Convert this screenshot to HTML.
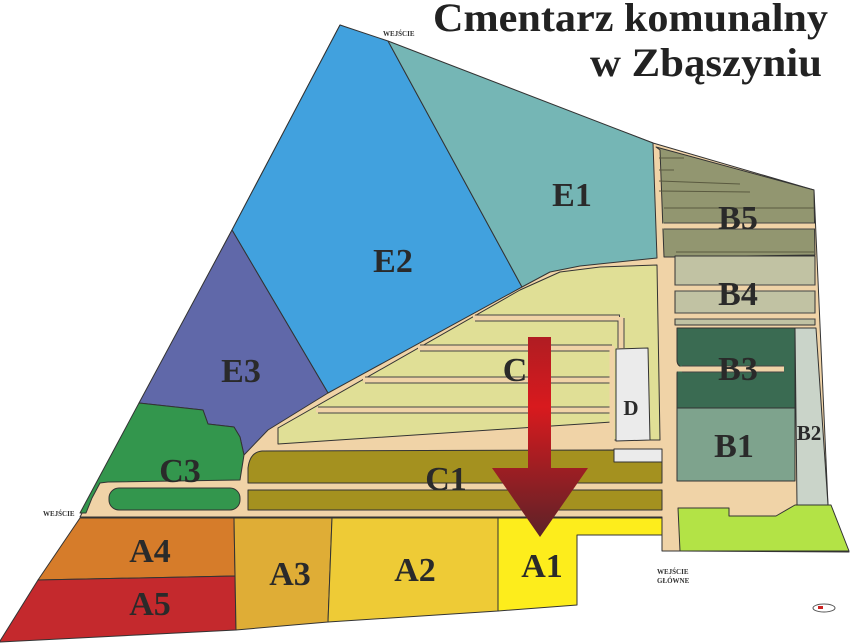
<!DOCTYPE html>
<html><head><meta charset="utf-8"><style>
html,body{margin:0;padding:0;background:#fff;width:852px;height:644px;overflow:hidden}
svg{display:block}
.l{font-family:"Liberation Serif",serif;font-weight:bold;fill:#2a2a2a;text-anchor:middle}
.t{font-family:"Liberation Serif",serif;font-weight:bold;fill:#222}
.s{font-family:"Liberation Serif",serif;font-weight:bold;fill:#333;font-size:7px}
</style></head><body>
<svg width="852" height="644" viewBox="0 0 852 644" xmlns="http://www.w3.org/2000/svg">
<defs>
<linearGradient id="ag" x1="0" y1="0" x2="0" y2="1">
<stop offset="0" stop-color="#b01c22"/><stop offset="0.35" stop-color="#d81a1e"/><stop offset="1" stop-color="#5c2228"/>
</linearGradient>
</defs>
<g stroke="#333" stroke-width="1" stroke-linejoin="round">
<polygon fill="#f0d3a7" points="340,25 653,143 814,190 828,505 849,552 680,551 662,551 662,517 80,517 140,403 232,230"/>
<polygon fill="#41a1de" points="340,25 388,41 522,287 328,393 232,230"/>
<polygon fill="#75b6b5" points="388,41 653,143 657,258 580,266 550,272 522,287"/>
<polygon fill="#6068a9" points="232,230 328,393 268,430 244,455 240,437 234,427 208,424 203,410 139,403"/>
<polygon fill="#33964d" points="139,403 203,410 208,424 234,427 240,437 244,455 240,480 108,482 100,483 92,498 86,513 80,513"/>
<rect fill="#33964d" x="109" y="488" width="131" height="22" rx="10"/>
<polygon fill="#e0df96" points="278,428 520,290 560,272 600,267 657,265 660,440 612,440 612,422 278,444"/>
</g>
<!-- road gaps in C with outlines -->
<g stroke="#444" stroke-width="7" fill="none">
<line x1="475" y1="318" x2="620" y2="318"/>
<line x1="420" y1="348" x2="612" y2="348"/>
<line x1="365" y1="380" x2="612" y2="380"/>
<line x1="318" y1="410" x2="612" y2="410"/>
<line x1="621" y1="318" x2="621" y2="348"/>
</g>
<g stroke="#f0d3a7" stroke-width="5" fill="none">
<line x1="473" y1="318" x2="619" y2="318"/>
<line x1="418" y1="348" x2="613" y2="348"/>
<line x1="363" y1="380" x2="613" y2="380"/>
<line x1="316" y1="410" x2="613" y2="410"/>
<line x1="621" y1="317" x2="621" y2="349"/>
<line x1="612" y1="346" x2="612" y2="442"/>
</g>
<g stroke="#333" stroke-width="1" stroke-linejoin="round">
<polygon fill="#ebebeb" points="616,349 648,348 650,440 616,441"/>
<rect fill="#ebebeb" x="614" y="449" width="48" height="13"/>
<path fill="#a4911f" d="M262,451 L614,450 L614,462 L662,462 L662,483 L248,483 L248,468 Q250,452 262,451 Z"/>
<rect fill="#a4911f" x="248" y="490" width="414" height="20"/>
<polygon fill="#929670" points="656,147 814,190 815,255 676,257 664,257 660,150"/>
<rect fill="#c1c2a3" x="675" y="256" width="140" height="69"/>
<path fill="#3a6b52" d="M677,328 L795,328 L795,408 L677,408 L677,374 Q677,368 682,367 Q677,366 677,360 Z"/>
<rect fill="#7ea38d" x="677" y="408" width="118" height="73"/>
<polygon fill="#cad4c9" points="795,328 816,328 828,505 797,505"/>
<polygon fill="#b3e346" points="678,508 729,508 729,516 776,516 795,505 831,505 849,551 680,551"/>
<polygon fill="#d67c2a" points="80,518 234,518 235,576 38,580"/>
<polygon fill="#c4292d" points="38,580 235,576 236,630 0,642 0,641"/>
<polygon fill="#dfad36" points="234,518 332,518 328,622 236,630"/>
<polygon fill="#eecb36" points="332,518 498,518 498,611 328,622"/>
<polygon fill="#fded1c" points="498,518 662,518 662,535 577,535 577,605 498,611"/>
</g>
<g stroke="#444" stroke-width="7" fill="none">
<line x1="664" y1="226" x2="814" y2="226"/>
<line x1="675" y1="288" x2="815" y2="288"/>
<line x1="675" y1="316" x2="815" y2="316"/>
<line x1="682" y1="369" x2="784" y2="369"/>
</g>
<g stroke="#f0d3a7" stroke-width="5" fill="none">
<line x1="662" y1="226" x2="815" y2="226"/>
<line x1="673" y1="288" x2="816" y2="288"/>
<line x1="673" y1="316" x2="816" y2="316"/>
<line x1="676" y1="369" x2="784" y2="369"/>
</g>
<g stroke="#5a5a40" stroke-width="1" fill="none">
<line x1="659" y1="158" x2="684" y2="158"/>
<line x1="659" y1="170" x2="674" y2="170"/>
<line x1="659" y1="181" x2="740" y2="184"/>
<line x1="659" y1="191" x2="750" y2="192"/>
<line x1="664" y1="208" x2="814" y2="208"/>
<line x1="676" y1="252" x2="814" y2="252"/>
</g>
<polygon fill="url(#ag)" points="528,337 551,337 551,468 588,468 540,537 492,468 528,468"/>
<text class="l" x="572" y="206" font-size="34">E1</text>
<text class="l" x="393" y="272" font-size="34">E2</text>
<text class="l" x="241" y="382" font-size="34">E3</text>
<text class="l" x="515" y="381" font-size="34">C</text>
<text class="l" x="631" y="415" font-size="21">D</text>
<text class="l" x="180" y="482" font-size="34">C3</text>
<text class="l" x="446" y="490" font-size="34">C1</text>
<text class="l" x="738" y="229" font-size="34">B5</text>
<text class="l" x="738" y="305" font-size="34">B4</text>
<text class="l" x="738" y="380" font-size="34">B3</text>
<text class="l" x="734" y="457" font-size="34">B1</text>
<text class="l" x="809" y="440" font-size="21">B2</text>
<text class="l" x="150" y="562" font-size="34">A4</text>
<text class="l" x="150" y="615" font-size="34">A5</text>
<text class="l" x="290" y="585" font-size="34">A3</text>
<text class="l" x="415" y="581" font-size="34">A2</text>
<text class="l" x="542" y="577" font-size="34">A1</text>
<text class="t" x="433" y="31" font-size="40" textLength="395" lengthAdjust="spacingAndGlyphs">Cmentarz komunalny</text>
<text class="t" x="590" y="76" font-size="40" textLength="232" lengthAdjust="spacingAndGlyphs">w Zbąszyniu</text>
<text class="s" x="383" y="36">WEJŚCIE</text>
<text class="s" x="43" y="516">WEJŚCIE</text>
<text class="s" x="657" y="574">WEJŚCIE</text>
<text class="s" x="657" y="583">GŁÓWNE</text>
<ellipse cx="824" cy="608" rx="11" ry="4" fill="#fff" stroke="#555" stroke-width="1"/>
<rect x="818" y="606" width="5" height="3" fill="#c22"/>
</svg>
</body></html>
